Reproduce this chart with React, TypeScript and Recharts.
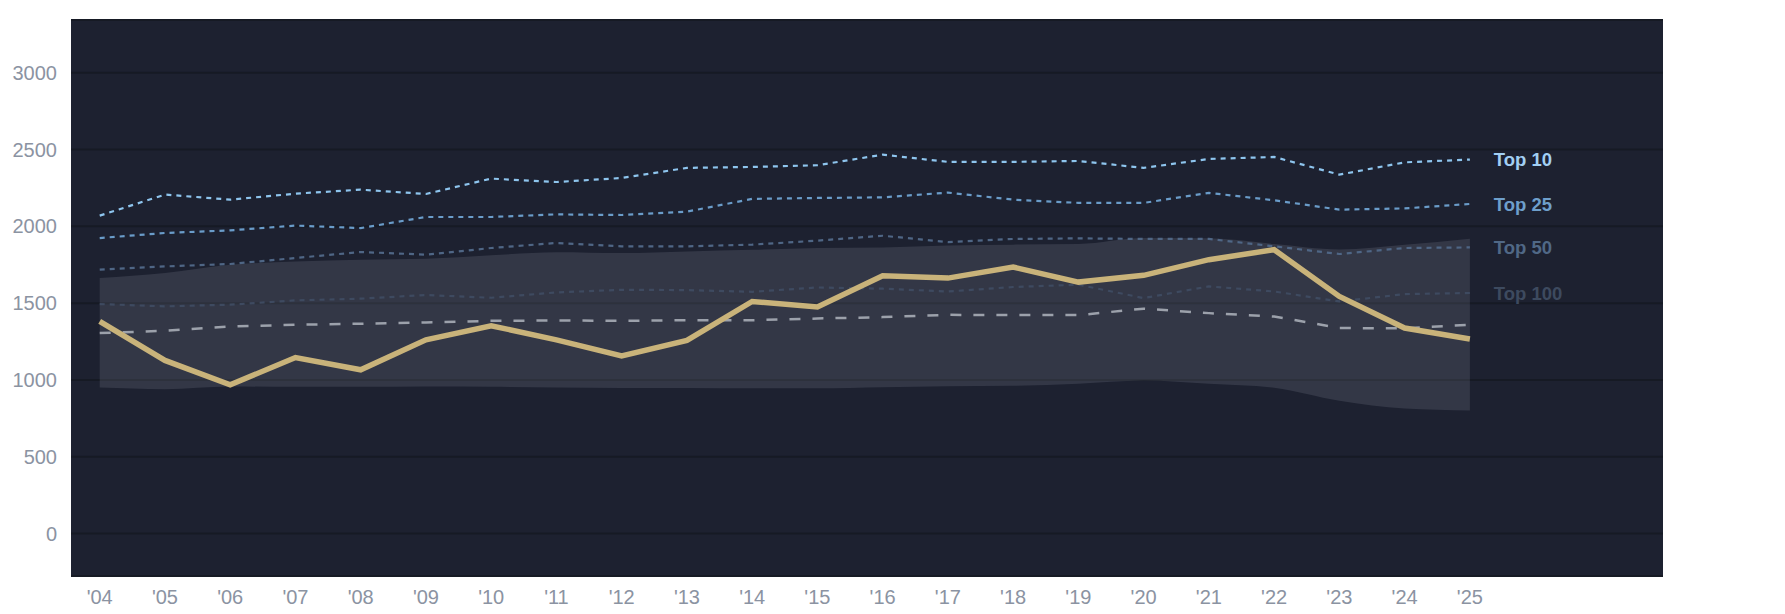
import { ComposedChart, Area, Line, XAxis, YAxis, CartesianGrid } from "recharts"

const years = [
  2004, 2005, 2006, 2007, 2008, 2009, 2010, 2011, 2012, 2013, 2014,
  2015, 2016, 2017, 2018, 2019, 2020, 2021, 2022, 2023, 2024, 2025,
]
const top10 = [2070, 2207, 2174, 2213, 2239, 2211, 2311, 2289, 2315, 2381, 2387, 2398, 2467, 2420, 2420, 2426, 2381, 2439, 2452, 2337, 2417, 2435]
const top25 = [1924, 1957, 1974, 2005, 1989, 2061, 2061, 2078, 2074, 2096, 2179, 2185, 2189, 2220, 2174, 2153, 2153, 2218, 2170, 2109, 2117, 2146]
const top50 = [1718, 1739, 1755, 1794, 1833, 1816, 1859, 1892, 1870, 1870, 1881, 1907, 1939, 1898, 1918, 1922, 1918, 1918, 1870, 1820, 1859, 1863]
const top100 = [1494, 1479, 1490, 1518, 1529, 1553, 1535, 1570, 1587, 1585, 1574, 1602, 1594, 1576, 1605, 1620, 1533, 1609, 1576, 1511, 1559, 1566]
const median = [1305, 1320, 1348, 1359, 1366, 1374, 1385, 1387, 1385, 1389, 1389, 1400, 1409, 1424, 1422, 1422, 1464, 1435, 1413, 1338, 1336, 1359]
const actual = [1381, 1127, 968, 1146, 1066, 1261, 1353, 1261, 1157, 1257, 1511, 1475, 1679, 1663, 1735, 1637, 1681, 1783, 1848, 1544, 1338, 1266]
const bandHigh = [1663, 1696, 1750, 1771, 1783, 1789, 1812, 1831, 1826, 1837, 1848, 1859, 1863, 1876, 1881, 1885, 1924, 1922, 1885, 1850, 1880, 1920]
const bandLow = [950, 940, 957, 955, 955, 957, 955, 950, 948, 948, 945, 945, 952, 958, 962, 975, 996, 975, 949, 864, 814, 801]
const yTicks = [0, 500, 1000, 1500, 2000, 2500, 3000]

const data = years.map((year, i) => ({
  year,
  top10: top10[i],
  top25: top25[i],
  top50: top50[i],
  top100: top100[i],
  median: median[i],
  actual: actual[i],
  band: [bandLow[i], bandHigh[i]],
}))

const last = years.length - 1
const font = "'Liberation Sans', Arial, sans-serif"
const tickStyle = { fill: "#8b93a2", fontSize: 20, fontFamily: font }

function endLabel(text: string, color: string) {
  return (props: any) => {
    if (props.index !== last) return <g />
    return (
      <text
        x={props.x + 24}
        y={props.y}
        dy="0.36em"
        fill={color}
        fontSize={18.5}
        fontWeight="bold"
        fontFamily={font}
      >
        {text}
      </text>
    )
  }
}

export default function App() {
  return (
    <div style={{ padding: "8px 0 0 8px" }}>
      <style>{"body { margin: 0; overflow: hidden; }"}</style>
      <ComposedChart
        width={1769}
        height={606}
        data={data}
        margin={{ top: 12, right: 114, bottom: 0, left: 0 }}
      >
        <CartesianGrid vertical={false} fill="#1d2130" stroke="#161a24" strokeWidth={2} />
        <XAxis
          dataKey="year"
          type="number"
          domain={[2003.56, 2027.96]}
          ticks={years}
          interval={0}
          tickFormatter={(y) => "'" + String(y).slice(2)}
          axisLine={false}
          tickLine={false}
          tickMargin={8}
          height={38}
          tick={tickStyle}
        />
        <YAxis
          domain={[-277, 3344]}
          ticks={yTicks}
          axisLine={false}
          tickLine={false}
          tickMargin={8}
          width={63}
          tick={tickStyle}
        />
        <Area
          dataKey="band"
          type="monotone"
          stroke="none"
          fill="#8a90a0"
          fillOpacity={0.2}
          isAnimationActive={false}
        />
        <Line dataKey="top100" stroke="#3e4a60" strokeWidth={2.2} strokeDasharray="5 5" dot={false} isAnimationActive={false} label={endLabel("Top 100", "#3d4a5f")} />
        <Line dataKey="top50" stroke="#4f6685" strokeWidth={2.2} strokeDasharray="5 5" dot={false} isAnimationActive={false} label={endLabel("Top 50", "#506886")} />
        <Line dataKey="top25" stroke="#6a9cc9" strokeWidth={2.2} strokeDasharray="5 5" dot={false} isAnimationActive={false} label={endLabel("Top 25", "#6e9fcb")} />
        <Line dataKey="top10" stroke="#8ec5ee" strokeWidth={2.2} strokeDasharray="5 5" dot={false} isAnimationActive={false} label={endLabel("Top 10", "#a2cff3")} />
        <Line dataKey="median" stroke="#9ca1ab" strokeWidth={2.5} strokeDasharray="11 12" dot={false} isAnimationActive={false} />
        <Line dataKey="actual" stroke="#c9b37a" strokeWidth={5.5} dot={false} isAnimationActive={false} />
      </ComposedChart>
    </div>
  )
}
